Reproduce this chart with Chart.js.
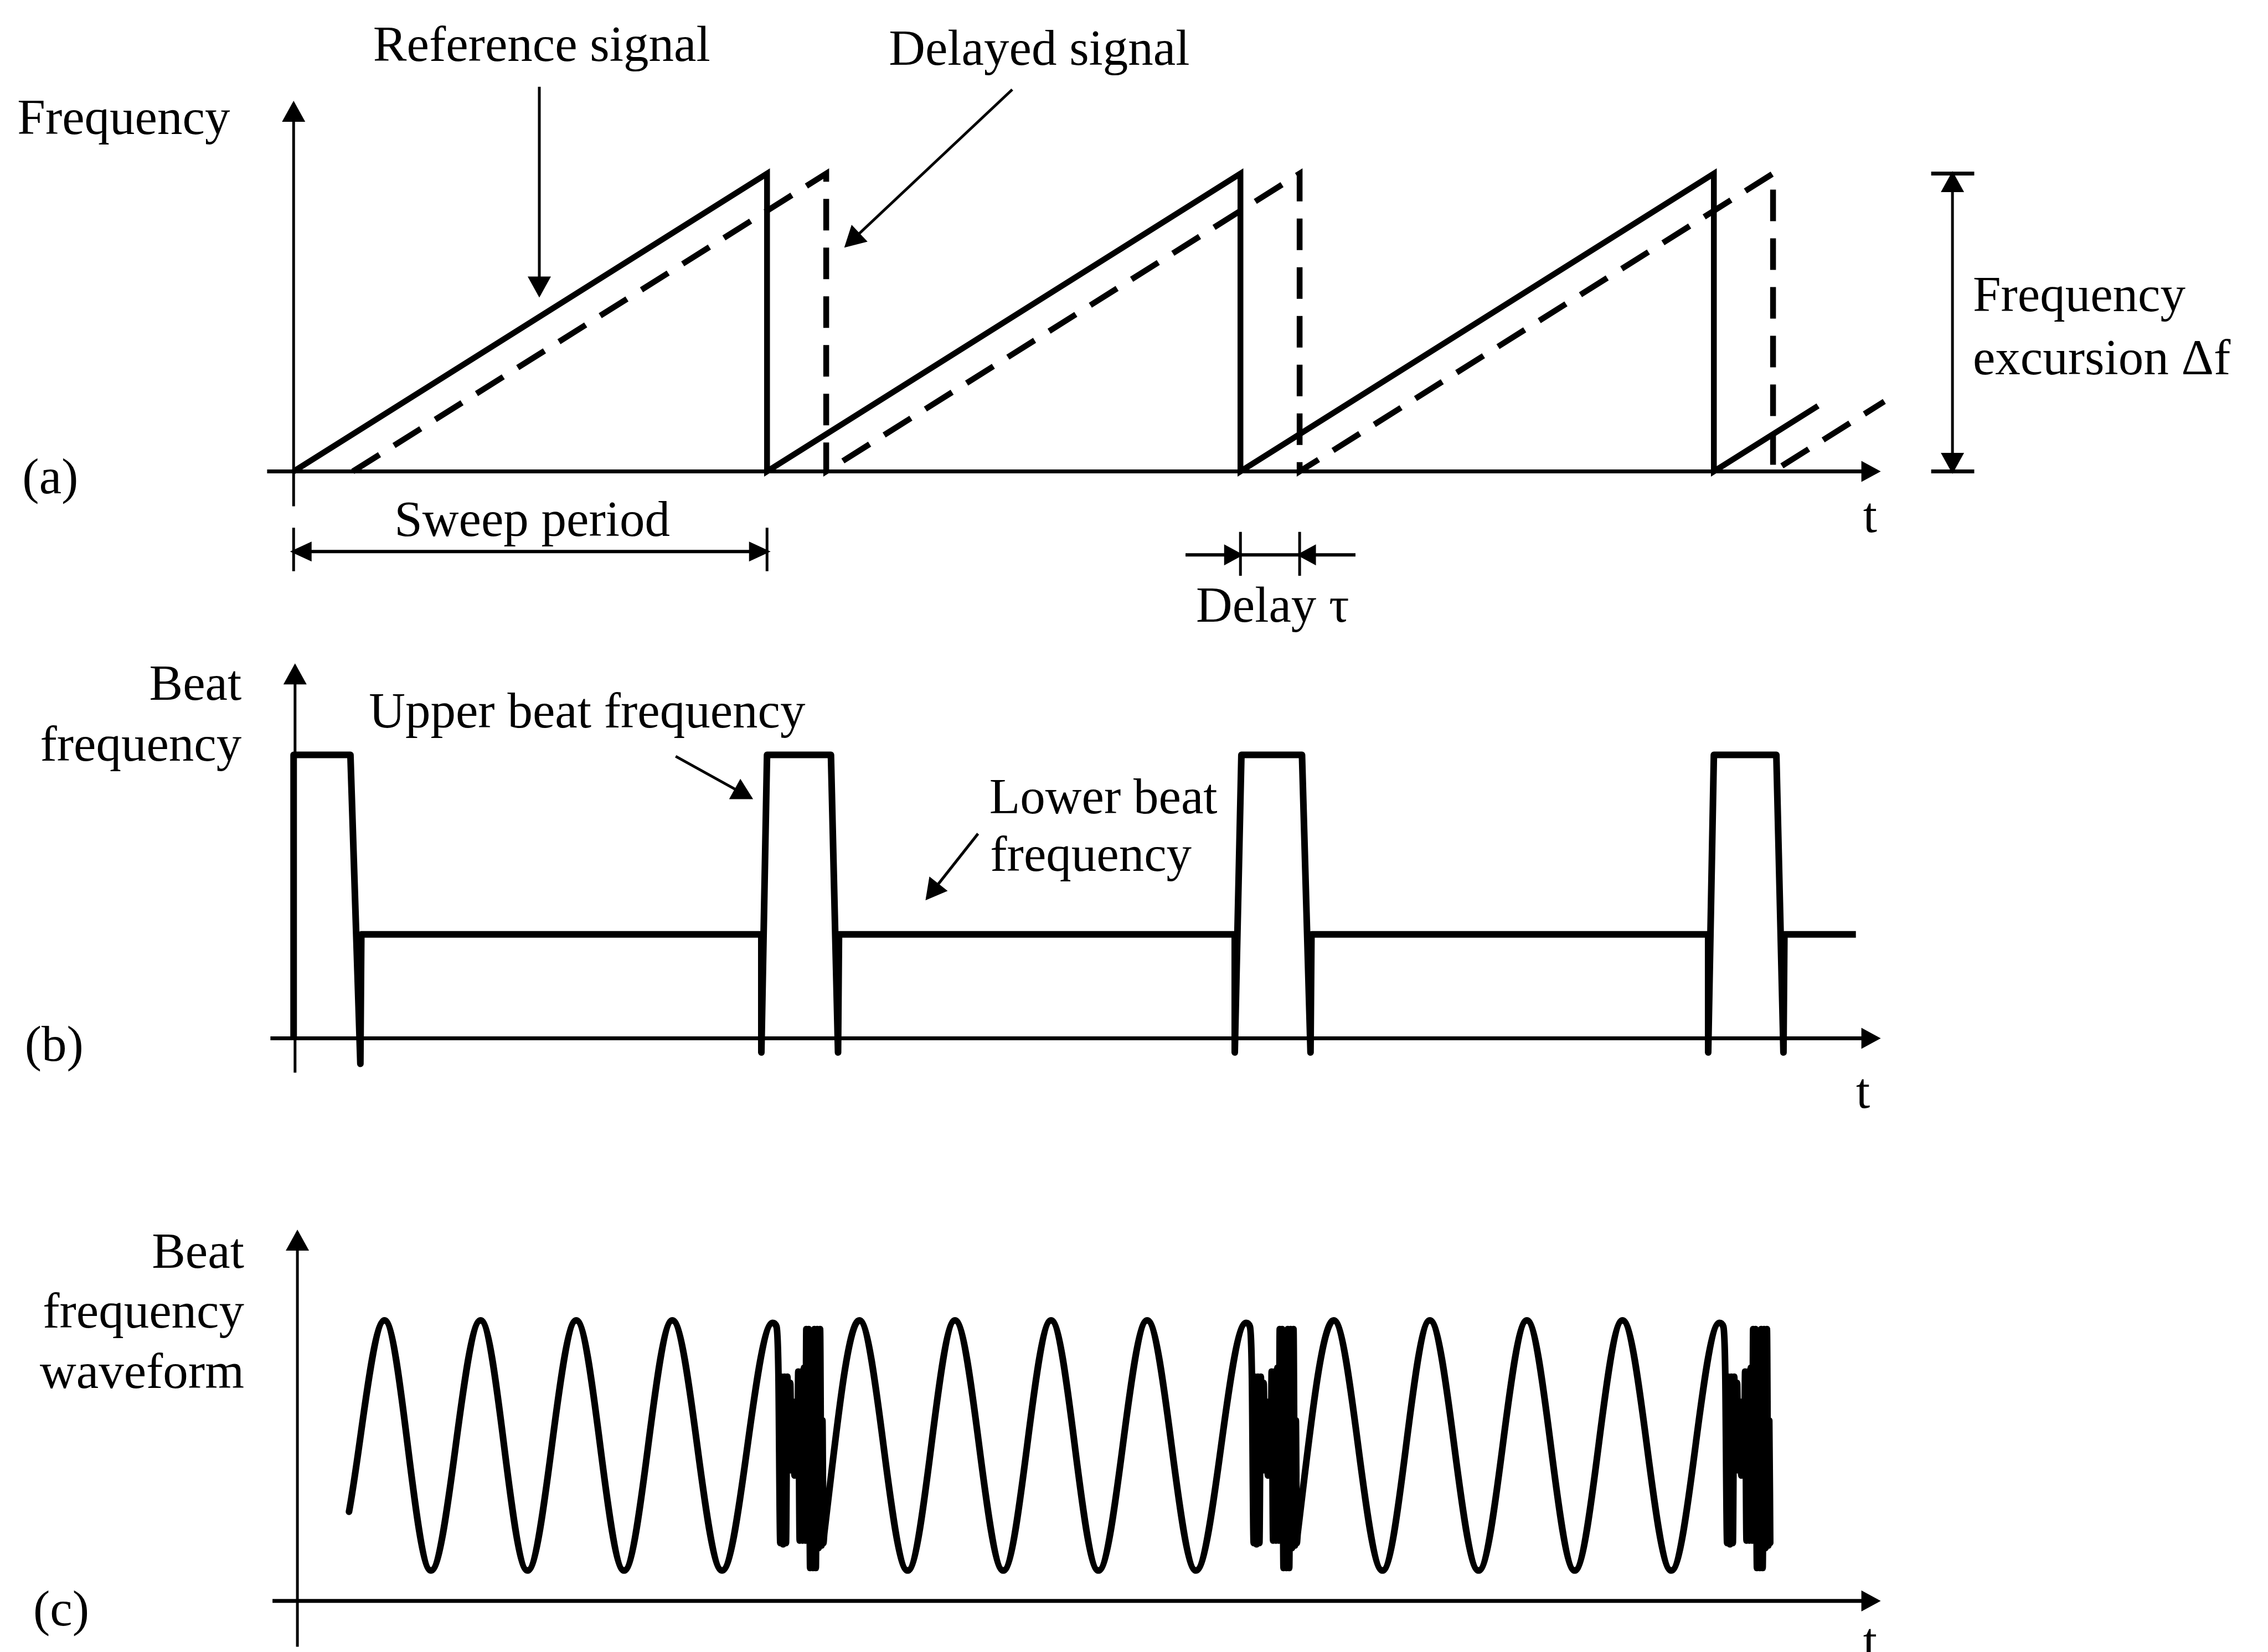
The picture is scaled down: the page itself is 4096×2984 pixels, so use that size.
<!DOCTYPE html>
<html>
<head>
<meta charset="utf-8">
<title>FMCW sweep and beat frequency</title>
<script src="https://cdn.jsdelivr.net/npm/chart.js@4.4.1/dist/chart.umd.min.js"></script>
<style>
  html, body { margin: 0; padding: 0; background: #fff; }
  .panel { position: absolute; left: 0; width: 4096px; }
  #panel-a { top: 0; height: 1150px; }
  #panel-b { top: 1150px; height: 887px; }
  #panel-c { top: 2037px; height: 947px; }
</style>
</head>
<body>
<div class="panel" id="panel-a"><canvas id="chart-a"></canvas></div>
<div class="panel" id="panel-b"><canvas id="chart-b"></canvas></div>
<div class="panel" id="panel-c"><canvas id="chart-c"></canvas></div>
<script>
// x is time in sweep periods; y is frequency / beat level in each panel's own units

// (a) transmitted sweep and its delayed echo
const referenceSweep = [[0, 0], [1, 1], [1, 0], [2, 1], [2, 0], [3, 1], [3, 0], [3.22, 0.22]];
const delayedSweep = [[0.125, 0], [1.125, 1], [1.125, 0], [2.125, 1], [2.125, 0], [3.125, 1], [3.125, 0], [3.36, 0.235]];

// (b) beat frequency: upper level 1, lower level 0.367
const beatTrace = [
  [0, 0], [0, 1], [0.12, 1], [0.141, -0.09], [0.143, 0.367],
  [0.988, 0.367], [0.988, -0.05], [1.0, 1], [1.135, 1], [1.15, -0.05], [1.152, 0.367],
  [1.988, 0.367], [1.988, -0.05], [2.002, 1], [2.13, 1], [2.148, -0.05], [2.15, 0.367],
  [2.988, 0.367], [2.988, -0.05], [3.0, 1], [3.132, 1], [3.147, -0.05], [3.149, 0.367],
  [3.3, 0.367]
];

// (c) beat waveform: peaks and troughs of each sweep
const waveSweep0 = [[0.117, -0.53], [0.192, 1], [0.29, -1], [0.395, 1], [0.494, -1], [0.597, 1], [0.698, -1], [0.8, 1], [0.905, -1], [1.012, 0.98]];
const waveSweep1 = [[1.121, -0.7], [1.195, 1], [1.297, -1], [1.397, 1], [1.499, -1], [1.6, 1], [1.7, -1], [1.803, 1], [1.906, -1], [2.012, 0.98]];
const waveSweep2 = [[2.121, -0.7], [2.197, 1], [2.3, -1], [2.4, 1], [2.503, -1], [2.605, 1], [2.706, -1], [2.807, 1], [2.91, -1], [3.012, 0.98]];
// jumble at the start of every sweep, offsets from the sweep start
const flybackBurst = [
  [0.020, 0.95], [0.024, 0.6], [0.028, -0.78], [0.031, 0.55], [0.034, -0.79], [0.037, 0.55],
  [0.040, -0.78], [0.043, 0.55], [0.046, -0.1], [0.049, 0.5], [0.052, -0.2], [0.055, 0.35],
  [0.058, -0.24], [0.061, 0.1], [0.064, -0.24], [0.066, 0.59], [0.069, -0.76], [0.072, 0.59],
  [0.075, -0.76], [0.078, 0.62], [0.081, -0.76], [0.083, 0.93], [0.086, -0.76], [0.088, 0.93],
  [0.091, -0.98], [0.094, 0.6], [0.097, -0.98], [0.100, 0.93], [0.103, -0.98], [0.106, 0.93],
  [0.109, -0.82], [0.112, 0.93], [0.115, -0.8], [0.117, 0.2], [0.119, -0.78]
];
const sweepStarts = [1, 2, 3];

const FONT = '91px "Liberation Serif", "Times New Roman", serif';
const X_RANGE = { min: -0.6202, max: 4.1705 };

const pts = (arr) => arr.map(([x, y]) => ({ x, y }));
const burstAt = (start) => flybackBurst.map(([dx, y]) => [start + dx, y]);

const beatWave = [
  ...waveSweep0, ...burstAt(sweepStarts[0]),
  ...waveSweep1, ...burstAt(sweepStarts[1]),
  ...waveSweep2, ...burstAt(sweepStarts[2])
];

const line = (arr, width, extra = {}) => ({
  data: pts(arr),
  showLine: true,
  pointRadius: 0,
  borderColor: "#000",
  backgroundColor: "#000",
  borderWidth: width,
  fill: false,
  tension: 0,
  ...extra,
});

// filled arrowheads on the ends of flagged datasets
const arrowTips = {
  id: "arrowTips",
  afterDatasetsDraw(chart) {
    const ctx = chart.ctx;
    ctx.save();
    ctx.fillStyle = "#000";
    chart.data.datasets.forEach((ds, i) => {
      const p = chart.getDatasetMeta(i).data;
      if (p.length < 2) return;
      const [len, wid] = ds.arrowSize || [38, 42];
      const head = (tip, from) => {
        let dx = tip.x - from.x, dy = tip.y - from.y;
        const d = Math.hypot(dx, dy);
        dx /= d; dy /= d;
        const ext = (ds.borderWidth * len) / wid;
        const tx = tip.x + dx * ext, ty = tip.y + dy * ext;
        const bx = tx - dx * len, by = ty - dy * len;
        ctx.beginPath();
        ctx.moveTo(tx, ty);
        ctx.lineTo(bx - dy * wid / 2, by + dx * wid / 2);
        ctx.lineTo(bx + dy * wid / 2, by - dx * wid / 2);
        ctx.closePath();
        ctx.fill();
      };
      if (ds.arrowEnd) head(p[p.length - 1], p[p.length - 2]);
      if (ds.arrowStart) head(p[0], p[1]);
    });
    ctx.restore();
  },
};

const notes = (items) => ({
  id: "notes",
  afterDatasetsDraw(chart) {
    const { ctx, scales } = chart;
    ctx.save();
    ctx.fillStyle = "#000";
    ctx.font = FONT;
    ctx.textBaseline = "alphabetic";
    items.forEach((n) => {
      ctx.textAlign = n.align || "left";
      ctx.fillText(n.text, scales.x.getPixelForValue(n.at[0]), scales.y.getPixelForValue(n.at[1]));
    });
    ctx.restore();
  },
});

const makeChart = (id, yRange, datasets, labels) =>
  new Chart(document.getElementById(id), {
    type: "scatter",
    data: { datasets },
    options: {
      animation: false,
      responsive: true,
      maintainAspectRatio: false,
      devicePixelRatio: 1,
      events: [],
      layout: { padding: 0 },
      plugins: { legend: { display: false }, tooltip: { enabled: false } },
      scales: {
        x: { type: "linear", display: false, ...X_RANGE },
        y: { type: "linear", display: false, ...yRange },
      },
    },
    plugins: [arrowTips, notes(labels)],
  });

// panel (a)
makeChart("chart-a", { min: -0.5546, max: 1.5825 }, [
  line([[-0.056, 0], [3.345, 0]], 7, { arrowEnd: true, arrowSize: [35, 38] }),
  line([[0, -0.117], [0, 1.236]], 5, { arrowEnd: true }),
  line(referenceSweep, 10.5),
  line(delayedSweep, 10.5, { borderDash: [57, 31] }),
  line([[0.519, 1.291], [0.519, 0.592]], 5, { arrowEnd: true }),
  line([[1.518, 1.282], [1.167, 0.757]], 5, { arrowEnd: true }),
  // frequency excursion
  line([[3.504, 0], [3.504, 1]], 5, { arrowEnd: true, arrowStart: true }),
  line([[3.459, 1], [3.55, 1]], 7),
  line([[3.459, 0], [3.55, 0]], 7),
  // sweep period
  line([[0, -0.269], [1, -0.269]], 6, { arrowEnd: true, arrowStart: true, arrowSize: [39, 36] }),
  line([[0, -0.189], [0, -0.335]], 5),
  line([[1, -0.189], [1, -0.335]], 5),
  // delay
  line([[1.884, -0.28], [2.0, -0.28]], 6, { arrowEnd: true, arrowSize: [35, 38] }),
  line([[2.243, -0.28], [2.125, -0.28]], 6, { arrowEnd: true, arrowSize: [35, 38] }),
  line([[2.0, -0.28], [2.125, -0.28]], 6),
  line([[2.0, -0.203], [2.0, -0.35]], 5),
  line([[2.125, -0.203], [2.125, -0.35]], 5),
], [
  { text: "Frequency", at: [-0.5836, 1.133] },
  { text: "Reference signal", at: [0.524, 1.379], align: "center" },
  { text: "Delayed signal", at: [1.575, 1.366], align: "center" },
  { text: "Frequency", at: [3.547, 0.539] },
  { text: "excursion \u0394f", at: [3.547, 0.327] },
  { text: "(a)", at: [-0.573, -0.073] },
  { text: "Sweep period", at: [0.504, -0.216], align: "center" },
  { text: "t", at: [3.33, -0.204], align: "center" },
  { text: "Delay \u03c4", at: [2.068, -0.505], align: "center" },
]);

// panel (b)
makeChart("chart-b", { min: -0.3154, max: 1.4171 }, [
  line([[-0.049, 0], [3.345, 0]], 7, { arrowEnd: true, arrowSize: [35, 38] }),
  line([[0.003, -0.121], [0.003, 1.314]], 5, { arrowEnd: true }),
  line(beatTrace, 12, { borderJoinStyle: "round" }),
  line([[0.807, 0.995], [0.966, 0.848]], 5, { arrowEnd: true }),
  line([[1.4457, 0.722], [1.338, 0.494]], 5, { arrowEnd: true }),
], [
  { text: "Beat", at: [-0.11, 1.194], align: "right" },
  { text: "frequency", at: [-0.11, 0.98], align: "right" },
  { text: "Upper beat frequency", at: [0.62, 1.097], align: "center" },
  { text: "Lower beat", at: [1.4696, 0.794] },
  { text: "frequency", at: [1.4714, 0.59] },
  { text: "(b)", at: [-0.568, -0.079] },
  { text: "t", at: [3.315, -0.245], align: "center" },
]);

// panel (c)
makeChart("chart-c", { min: -1.6512, max: 2.5399 }, [
  line([[-0.0446, -1.243], [3.345, -1.243]], 7, { arrowEnd: true, arrowSize: [35, 38] }),
  line([[0.008, -1.609], [0.008, 1.706]], 5, { arrowEnd: true }),
  line(beatWave, 12, { cubicInterpolationMode: "monotone", borderJoinStyle: "round", borderCapStyle: "round" }),
], [
  { text: "Beat", at: [-0.1045, 1.422], align: "right" },
  { text: "frequency", at: [-0.1045, 0.942], align: "right" },
  { text: "waveform", at: [-0.1045, 0.461], align: "right" },
  { text: "(c)", at: [-0.55, -1.439] },
  { text: "t", at: [3.33, -1.694], align: "center" },
]);
</script>
</body>
</html>
